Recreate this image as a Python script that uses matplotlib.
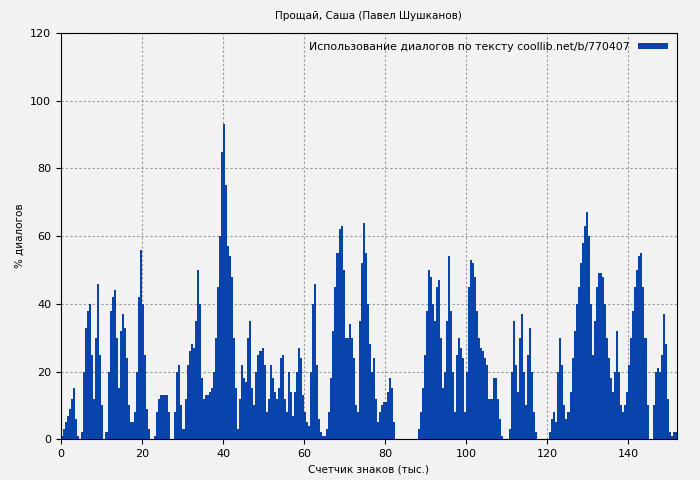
import numpy as np
import matplotlib
matplotlib.use("Agg")
import matplotlib.pyplot as plt

# dialogue share per 0.5 thousand characters
seg_00 = [1, 3, 5, 7, 9, 12, 15, 6, 1, 0, 2, 20, 33, 38, 40, 25, 12, 30, 46, 25]
seg_10 = [10, 0, 2, 20, 38, 42, 44, 30, 15, 32, 37, 33, 24, 10, 5, 5, 8, 20, 42, 56]
seg_20 = [40, 25, 9, 3, 0, 0, 1, 8, 12, 13, 13, 13, 13, 8, 0, 0, 8, 20, 22, 10]
seg_30 = [3, 12, 22, 26, 28, 27, 35, 50, 40, 18, 12, 13, 13, 14, 15, 20, 30, 45, 60, 85]
seg_40 = [93, 75, 57, 54, 48, 30, 15, 3, 12, 22, 18, 17, 30, 35, 15, 10, 20, 25, 26, 27]
seg_50 = [22, 8, 12, 22, 18, 14, 12, 15, 24, 25, 12, 8, 20, 14, 7, 14, 20, 27, 24, 13]
seg_60 = [8, 5, 4, 20, 40, 46, 22, 6, 2, 1, 1, 3, 8, 18, 32, 45, 55, 62, 63, 50]
seg_70 = [30, 30, 34, 30, 24, 10, 8, 35, 52, 64, 55, 40, 28, 20, 24, 12, 5, 8, 10, 11]
seg_80 = [11, 14, 18, 15, 5, 0, 0, 0, 0, 0, 0, 0, 0, 0, 0, 0, 3, 8, 15, 25]
seg_90 = [38, 50, 48, 40, 35, 45, 47, 30, 15, 20, 35, 54, 38, 20, 8, 25, 30, 27, 24, 8]
seg_100 = [20, 45, 53, 52, 48, 38, 30, 27, 26, 24, 22, 12, 12, 18, 18, 12, 6, 1, 0, 0]
seg_110 = [0, 3, 20, 35, 22, 14, 30, 37, 20, 10, 25, 33, 20, 8, 2, 0, 0, 0, 0, 0]
seg_120 = [0, 2, 6, 8, 5, 20, 30, 22, 10, 6, 8, 14, 24, 32, 40, 45, 52, 58, 63, 67]
seg_130 = [60, 40, 25, 35, 45, 49, 49, 48, 40, 30, 24, 18, 14, 20, 32, 20, 10, 8, 10, 14]
seg_140 = [22, 30, 38, 45, 50, 54, 55, 45, 30, 10, 0, 0, 10, 20, 21, 20, 25, 37, 28, 12]
seg_150 = [2, 1, 2, 2]

values = (seg_00 + seg_10 + seg_20 + seg_30 + seg_40 + seg_50 + seg_60 + seg_70
          + seg_80 + seg_90 + seg_100 + seg_110 + seg_120 + seg_130 + seg_140 + seg_150)
step = 0.5
x = np.arange(len(values)) * step

bg = "#f2f2f2"
fig = plt.figure(figsize=(7, 4.8), dpi=100, facecolor=bg)
ax = fig.add_axes([0.087, 0.085, 0.88, 0.846], facecolor=bg)

ax.bar(x, values, width=step, align="edge", color="#0844ab", linewidth=0,
       label="Использование диалогов по тексту coollib.net/b/770407")

ax.set_xlim(0, 152)
ax.set_ylim(0, 120)
ax.set_xticks(range(0, 141, 20))
ax.set_yticks(range(0, 121, 20))
ax.tick_params(labelsize=8)
ax.grid(True, color="#999999", linestyle=(0, (2, 2)), linewidth=0.8)
ax.set_axisbelow(True)

ax.set_title("Прощай, Саша (Павел Шушканов)", fontsize=7.5, pad=10)
ax.set_xlabel("Счетчик знаков (тыс.)", fontsize=7.5)
ax.set_ylabel("% диалогов", fontsize=7.5)
ax.legend(loc="upper right", frameon=False, fontsize=7.8, markerfirst=False,
          handlelength=2.8, handleheight=0.4, borderaxespad=0.4)

fig.savefig("out.png", dpi=100, facecolor=bg)
